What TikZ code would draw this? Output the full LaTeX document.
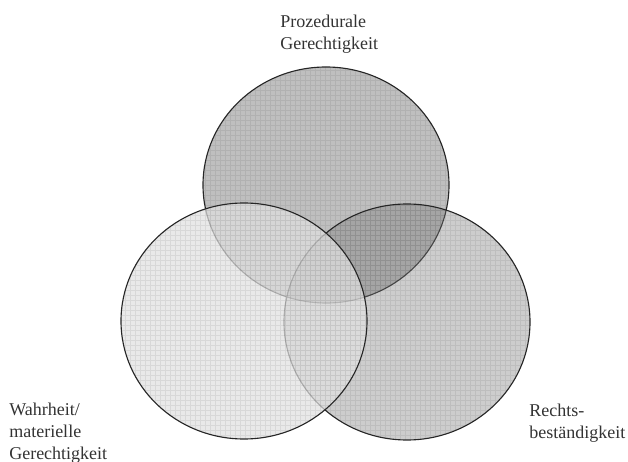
\documentclass[tikz,border=0pt]{standalone}
\usepackage{fontspec}
\setmainfont{Liberation Serif}
\usetikzlibrary{positioning}

\begin{document}
\begin{tikzpicture}[x=0.25mm,y=0.25mm,
  venn/.style={draw=black!85, line width=0.8pt},
  raster/.style={draw=black, opacity=0.07, line width=0.3pt, step=1.25mm},
  label/.style={anchor=north west, inner sep=0pt, align=left, text=black!80,
    font=\fontsize{12.8}{15.6}\selectfont}]
\useasboundingbox (0,0) rectangle (628,-462);

\coordinate (proz) at (326,-185);
\coordinate (recht) at (407,-322);
\coordinate (wahr) at (244,-321);

% top circle
\fill [black!25] (proz) ellipse [x radius=123, y radius=118];
\begin{scope}
\clip (proz) ellipse [x radius=123, y radius=118];
\draw [raster] (195,-60) grid (460,-310);
\end{scope}
\draw [venn] (proz) ellipse [x radius=123, y radius=118];

% right circle
\fill [black!51, fill opacity=0.385] (recht) ellipse [x radius=123, y radius=118];
\begin{scope}
\clip (recht) ellipse [x radius=123, y radius=118];
\draw [raster] (280,-200) grid (535,-445);
\end{scope}
\draw [venn] (recht) ellipse [x radius=123, y radius=118];

% left circle
\fill [black!12, fill opacity=0.72] (wahr) ellipse [x radius=123, y radius=118];
\begin{scope}
\clip (wahr) ellipse [x radius=123, y radius=118];
\draw [raster] (115,-200) grid (370,-445);
\end{scope}
\draw [venn] (wahr) ellipse [x radius=123, y radius=118];

\node [label] (prozlabel) at (280,-15) {Prozedurale\\Gerechtigkeit};
\node [label] (wahrlabel) at (9,-403) {Wahrheit/\\materielle\\Gerechtigkeit};
\node [label] (rechtlabel) at (529,-404) {Rechts-\\beständigkeit};

\end{tikzpicture}
\end{document}
